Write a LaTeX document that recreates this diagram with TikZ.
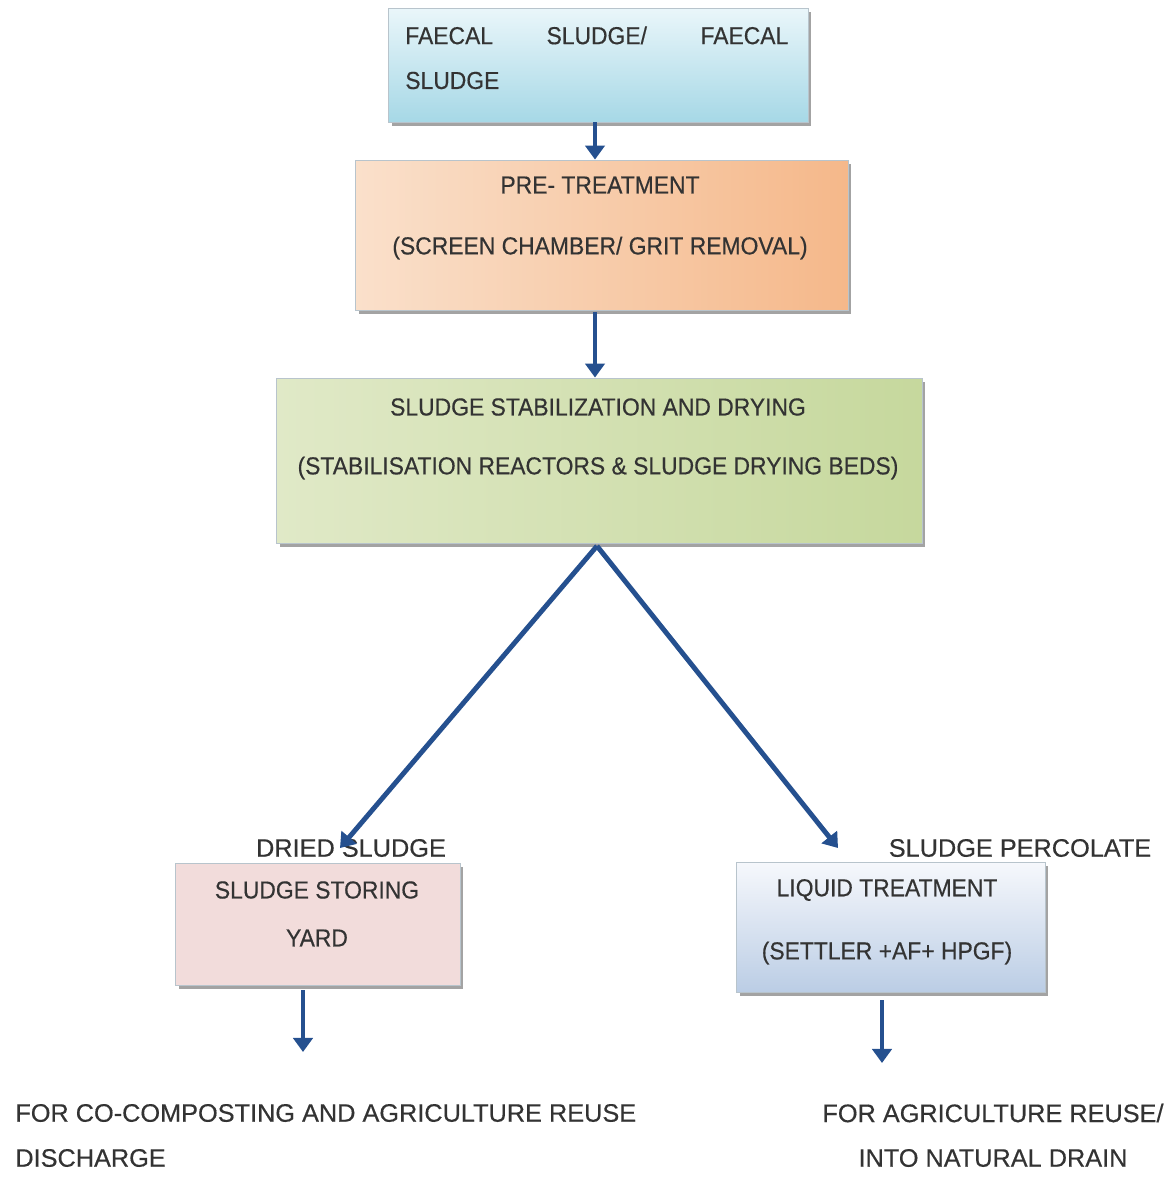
\documentclass[tikz,border=0pt]{standalone}
\usepackage{fontspec}
\setmainfont{Liberation Sans}[FakeBold=0.4]
\newfontfamily\boxfont{Liberation Sans}[FakeStretch=0.93,FakeBold=0.4]
\usetikzlibrary{shadows,arrows.meta}
\definecolor{arrowblue}{HTML}{25508F}
\definecolor{txt}{HTML}{333333}
\definecolor{bord}{HTML}{B8C4CC}
\definecolor{srcT}{HTML}{EAF6FA}
\definecolor{srcB}{HTML}{A6D8E6}
\definecolor{preL}{HTML}{FAE0CB}
\definecolor{preM}{HTML}{FDF0E5}
\definecolor{preR}{HTML}{F5B88A}
\definecolor{stL}{HTML}{E0E9C7}
\definecolor{stM}{HTML}{F1F4E6}
\definecolor{stR}{HTML}{C6D89D}
\definecolor{yardF}{HTML}{F2DCDB}
\definecolor{liqT}{HTML}{F6F8FC}
\definecolor{liqB}{HTML}{BBCDE5}
\begin{document}
\begin{tikzpicture}[x=0.02cm,y=-0.02cm,
  font=\fontsize{14.4}{17}\selectfont, text=txt,
  boxbase/.style={draw=bord, line width=0.5pt, inner sep=0pt,
     drop shadow={shadow xshift=2pt, shadow yshift=-2.5pt, fill=black!45, opacity=0.8}},
  lbl/.style={inner sep=0pt, align=center},
  inbox/.style={lbl, font=\boxfont\fontsize{14}{17}\selectfont},
  flow/.style={draw=arrowblue, line width=2.8pt, -{Triangle[length=8pt,width=11pt]}}]
\useasboundingbox (0,0) rectangle (1175,1184);
% boxes
\node[boxbase, top color=srcT, bottom color=srcB, minimum width=8.4cm, minimum height=2.28cm] (src) at (598,65) {};
\node[boxbase, left color=preL, middle color=preM, right color=preR, minimum width=9.86cm, minimum height=3.0cm] (pre) at (601.5,235) {};
\node[boxbase, left color=stL, middle color=stM, right color=stR, minimum width=12.92cm, minimum height=3.3cm] (stab) at (599,460.5) {};
\node[boxbase, fill=yardF, minimum width=5.7cm, minimum height=2.44cm] (yard) at (317.5,924) {};
\node[boxbase, top color=liqT, bottom color=liqB, minimum width=6.18cm, minimum height=2.6cm] (liq) at (890.5,927) {};
% texts
\node[inbox, text width=7.66cm, align=left, anchor=north west, font=\boxfont\fontsize{14}{25.5}\selectfont] (srct) at (405,26) {FAECAL\hfill SLUDGE/\hfill FAECAL\\SLUDGE};
\node[inbox] (pret1) at (600,185) {PRE- TREATMENT};
\node[inbox] (pret2) at (600,248) {(SCREEN CHAMBER/ GRIT REMOVAL)};
\node[inbox] (stabt1) at (598,407) {SLUDGE STABILIZATION AND DRYING};
\node[inbox] (stabt2) at (598,468) {(STABILISATION REACTORS \& SLUDGE DRYING BEDS)};
\node[inbox] (yardt1) at (317,890) {SLUDGE STORING};
\node[inbox] (yardt2) at (317,938) {YARD};
\node[inbox] (liqt1) at (887,890) {LIQUID TREATMENT};
\node[inbox] (liqt2) at (887,953) {(SETTLER +AF+ HPGF)};
\node[lbl] (dried) at (351,848) {DRIED SLUDGE};
\node[lbl] (perc) at (1020,848) {SLUDGE PERCOLATE};
\node[lbl, anchor=west] (out1a) at (15,1113) {FOR CO-COMPOSTING AND AGRICULTURE REUSE};
\node[lbl, anchor=west] (out1b) at (15,1158) {DISCHARGE};
\node[lbl] (out2a) at (993,1113) {FOR AGRICULTURE REUSE/};
\node[lbl] (out2b) at (993,1158) {INTO NATURAL DRAIN};
% connectors
\coordinate (split) at (597,546);
\draw[flow] (src.south -| 595,0) -- (pre.north -| 595,0);
\draw[flow] (pre.south -| 595,0) ++(0,2) -- (stab.north -| 595,0);
\draw[flow] (split) -- (340,848);
\draw[flow] (split) -- (838,848);
\draw[flow] (yard.south -| 303,0) ++(0,5) -- (303,1052);
\draw[flow] (liq.south -| 882,0) ++(0,8) -- (882,1063);
\end{tikzpicture}
\end{document}
